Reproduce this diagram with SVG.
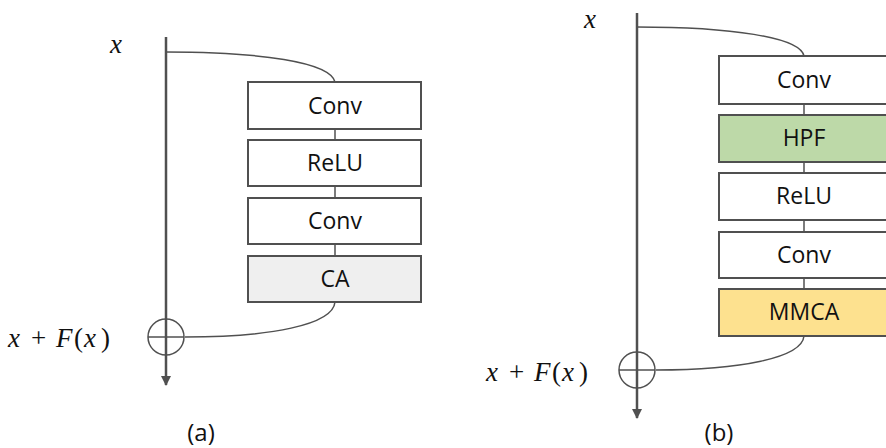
<svg xmlns="http://www.w3.org/2000/svg" width="886" height="448" viewBox="0 0 886 448">
<style>
.box{stroke:#505050;stroke-width:2}
.lbl{font-family:"Open Sans","Liberation Sans",sans-serif;font-size:23px;fill:#111;text-anchor:middle}
.ln{fill:none;stroke:#505050;stroke-width:1.5}
.main{fill:none;stroke:#505050;stroke-width:2.5}
.math{font-family:"Liberation Serif","DejaVu Serif",serif;font-size:27px;fill:#111}
.it{font-style:italic}
.cap{font-family:"Open Sans","Liberation Sans",sans-serif;font-size:24px;fill:#111;text-anchor:middle}
</style>
<defs>
<marker id="ah" viewBox="0 0 10 10" refX="9" refY="5" markerWidth="4" markerHeight="4" orient="auto"><path d="M0,0 L10,5 L0,10 z" fill="#505050"/></marker>
</defs>
<g id="connectors">
<line class="main" x1="166" y1="37" x2="166" y2="385" marker-end="url(#ah)"/>
<path class="ln" d="M166,52 C260,52 330,62 335,82"/>
<line class="ln" x1="335" y1="129" x2="335" y2="140"/>
<line class="ln" x1="335" y1="186" x2="335" y2="198"/>
<line class="ln" x1="335" y1="244" x2="335" y2="256"/>
<path class="ln" d="M335,302 C333,325 270,337 185,337"/>
<line class="main" x1="637" y1="13" x2="637" y2="418" marker-end="url(#ah)"/>
<path class="ln" d="M637,27 C730,27 800,37 804,56"/>
<line class="ln" x1="804" y1="104" x2="804" y2="115"/>
<line class="ln" x1="804" y1="162" x2="804" y2="173"/>
<line class="ln" x1="804" y1="220" x2="804" y2="232"/>
<line class="ln" x1="804" y1="278" x2="804" y2="289"/>
<path class="ln" d="M804,336 C802,358 740,370 656,370"/>
</g>
<g id="plus-a"><circle cx="166" cy="337" r="18" fill="none" stroke="#505050" stroke-width="1.5"/><line class="ln" x1="148" y1="337" x2="184" y2="337"/></g>
<g id="plus-b"><circle cx="637" cy="370" r="18" fill="none" stroke="#505050" stroke-width="1.5"/><line class="ln" x1="619" y1="370" x2="655" y2="370"/></g>
<g id="a-conv1"><rect class="box" x="248" y="82" width="173" height="47" fill="#fff"/><text class="lbl" x="335" y="114">Conv</text></g>
<g id="a-relu"><rect class="box" x="248" y="140" width="173" height="46" fill="#fff"/><text class="lbl" x="335" y="171">ReLU</text></g>
<g id="a-conv2"><rect class="box" x="248" y="198" width="173" height="46" fill="#fff"/><text class="lbl" x="335" y="229">Conv</text></g>
<g id="a-ca"><rect class="box" x="248" y="256" width="173" height="46" fill="#efefef"/><text class="lbl" x="335" y="287">CA</text></g>
<g id="b-conv1"><rect class="box" x="719" y="56" width="172" height="48" fill="#fff"/><text class="lbl" x="804" y="88">Conv</text></g>
<g id="b-hpf"><rect class="box" x="719" y="115" width="172" height="47" fill="#bdd9a8"/><text class="lbl" x="804" y="146">HPF</text></g>
<g id="b-relu"><rect class="box" x="719" y="173" width="172" height="47" fill="#fff"/><text class="lbl" x="804" y="204">ReLU</text></g>
<g id="b-conv2"><rect class="box" x="719" y="232" width="172" height="46" fill="#fff"/><text class="lbl" x="804" y="263">Conv</text></g>
<g id="b-mmca"><rect class="box" x="719" y="289" width="172" height="47" fill="#fde18f"/><text class="lbl" x="804" y="320">MMCA</text></g>
<g id="labels">
<text class="math it" x="110" y="53">x</text>
<text class="math" y="347"><tspan class="it" x="8">x</tspan><tspan x="31">+</tspan><tspan class="it" x="56">F</tspan><tspan x="74">(</tspan><tspan class="it" x="84">x</tspan><tspan x="101">)</tspan></text>
<text class="math it" x="584" y="28">x</text>
<text class="math" y="381"><tspan class="it" x="486">x</tspan><tspan x="509">+</tspan><tspan class="it" x="534">F</tspan><tspan x="552">(</tspan><tspan class="it" x="562">x</tspan><tspan x="579">)</tspan></text>
<text class="cap" x="201" y="441">(a)</text>
<text class="cap" x="719" y="441">(b)</text>
</g>
</svg>
